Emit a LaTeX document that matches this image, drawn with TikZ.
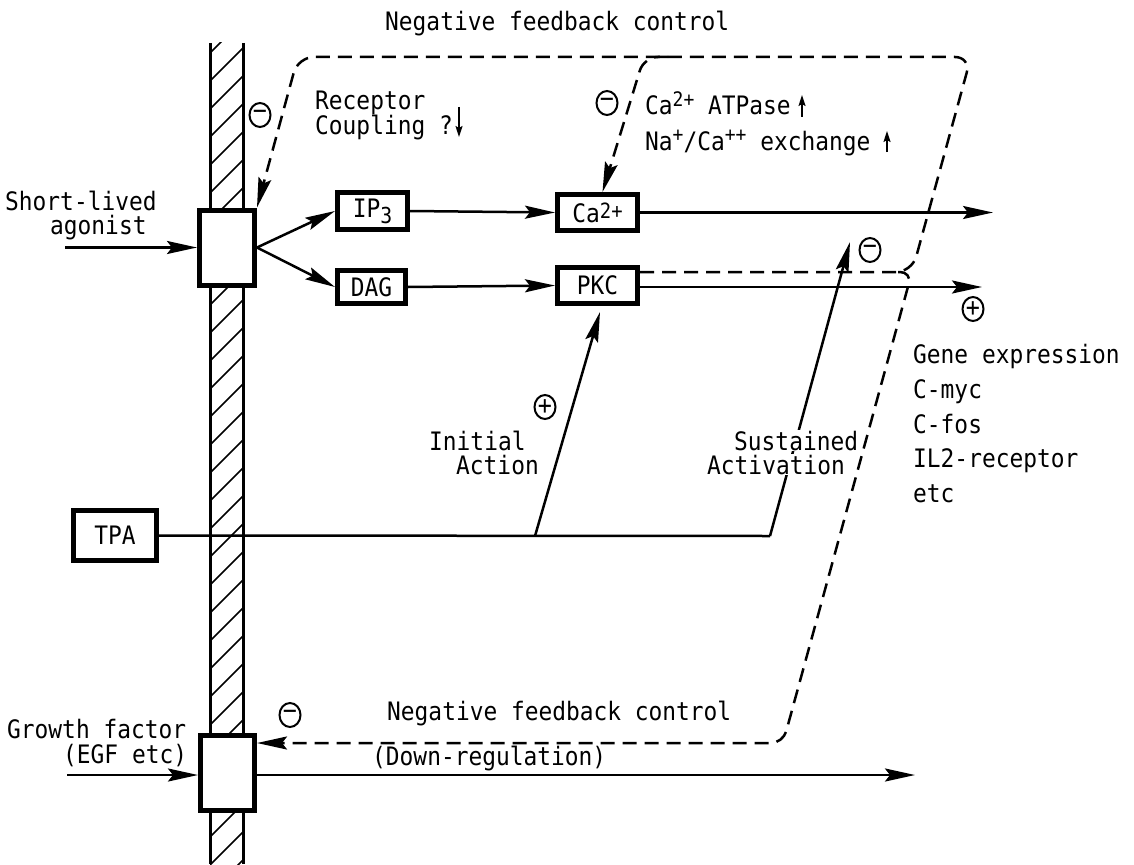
\documentclass[tikz,border=0pt]{standalone}
\usepackage{fontspec}
\newfontfamily\monofnt[FakeStretch=0.9]{DejaVu Sans Mono}
\usetikzlibrary{arrows.meta,shapes.geometric}
\newcommand{\supx}[1]{\raisebox{9pt}{\fontsize{20}{20}\selectfont #1}}
\begin{document}
\begin{tikzpicture}[x=1pt,y=-1pt,
  txt/.style={font=\monofnt\fontsize{25.4}{28}\selectfont, inner sep=0pt, anchor=base west},
  box/.style={draw, line width=5pt, fill=white, inner sep=0pt, font=\monofnt\fontsize{25.4}{28}\selectfont},
  arr/.style={line width=2.5pt, -{Stealth[length=30pt,width=13pt,inset=5pt]}},
  fb/.style={line width=2.5pt, dash pattern=on 14pt off 8pt},
  fbarr/.style={fb, -{Stealth[length=30pt,width=13pt,inset=5pt]}},
  small/.style={line width=1.6pt, -{Stealth[length=11pt,width=7pt,inset=2pt]}},
  sign/.style={ellipse, draw, line width=2pt, minimum width=21pt, minimum height=24pt, inner sep=0pt, font=\monofnt\fontsize{26}{26}\selectfont},
]
\useasboundingbox (0,0) rectangle (1134,864);
% membrane
\begin{scope}
\clip (210,43) rectangle (243,864);
\foreach \y in {20,48,...,900} \draw[line width=1.5pt] (210,\y+33) -- (243,\y);
\end{scope}
\draw[line width=3pt] (210,43) -- (210,864) (243,43) -- (243,864);

% boxes
\node[box, minimum width=55pt, minimum height=75pt] (r1) at (227,247.5) {};
\node[box, minimum width=70pt, minimum height=37pt] (ip3) at (372.5,211) {IP\raisebox{-6pt}{\fontsize{22}{22}\selectfont 3}};
\node[box, minimum width=68pt, minimum height=33pt] (dag) at (371.5,287) {DAG};
\node[box, minimum width=80pt, minimum height=36pt] (ca) at (597.5,212.5) {Ca\raisebox{4pt}{\fontsize{21}{21}\selectfont 2+}};
\node[box, minimum width=80pt, minimum height=36pt] (pkc) at (597.5,285.5) {PKC};
\node[box, minimum width=83pt, minimum height=50pt] (tpa) at (115,535.5) {TPA};
\node[box, minimum width=54pt, minimum height=75pt] (r2) at (227.5,773) {};

% small arrows
\coordinate (sa1) at (459,107); \coordinate (sa1e) at (459,137);
\draw[small] (sa1) -- (sa1e);
\coordinate (sa2) at (802,117); \coordinate (sa2e) at (802,95);
\draw[small] (sa2) -- (sa2e);
\coordinate (sa3) at (887,152); \coordinate (sa3e) at (887,131);
\draw[small] (sa3) -- (sa3e);

% solid connectors
\coordinate (in1) at (65,247.5);
\draw[arr] (in1) -- (r1.west);
\draw[arr] (r1.east) -- (ip3.west);
\draw[arr] (r1.east) -- (dag.west);
\draw[arr] (ip3.east) -- (ca.west);
\draw[arr] (dag.east) -- (pkc.west);
\coordinate (caout) at (993,212.5);
\draw[arr] (ca.east) -- (caout);
\coordinate (pkcout) at (982,287);
\draw[arr] (pkc.east |- pkcout) -- (pkcout);
\coordinate (ia) at (535,536);
\coordinate (sa) at (770,536);
\coordinate (satip) at (850,242);
\draw[line width=2.5pt] (tpa.east) -- (sa);
\draw[arr] (ia) -- ([xshift=2.5pt,yshift=-6pt]pkc.south);
\draw[arr] (sa) -- (satip);
\coordinate (in2) at (67,775);
\draw[arr] (in2) -- (r2.west |- in2);
\coordinate (out2) at (915,775);
\draw[arr] (r2.east |- out2) -- (out2);

% dashed feedback
\draw[fbarr, rounded corners=16pt] ([yshift=13.5pt]pkc.east) -- (912,272) -- (971,57) -- (298,57) -- (r1.north east);
\draw[fbarr, rounded corners=14pt] (668,57) -- (644,57) -- ([xshift=5pt]ca.north);
\draw[fbarr, rounded corners=12pt] (898,272) -- (912,272) -- (783,743) -- ([yshift=-10pt]r2.north east);

% texts
\node[txt] (t1) at (385,31) {Negative feedback control};
\node[txt] (t2) at (315,110) {Receptor};
\node[txt] (t3) at (315,134) {Coupling ?};
\node[txt] (t4) at (645,115) {Ca\supx{2+} ATPase};
\node[txt] (t5) at (645,150) {Na\supx{+}/Ca\supx{++} exchange};
\node[txt] (t6) at (5,210) {Short-lived};
\node[txt] (t7) at (50,234) {agonist};
\node[txt] (t8) at (429,450) {Initial};
\node[txt] (t9) at (456,474) {Action};
\node[txt, fill=white, inner sep=1pt] (t10) at (733,450) {Sustained};
\node[txt, fill=white, inner sep=1pt] (t11) at (706,474) {Activation};
\node[txt] (g1) at (913,363) {Gene expression};
\node[txt] (g2) at (913,398) {C-myc};
\node[txt] (g3) at (913,433) {C-fos};
\node[txt] (g4) at (913,467) {IL2-receptor};
\node[txt] (g5) at (913,502) {etc};
\node[txt] (t12) at (7,738) {Growth factor};
\node[txt] (t13) at (63,763) {(EGF etc)};
\node[txt] (t14) at (387,720) {Negative feedback control};
\node[txt] (t15) at (372,765) {(Down-regulation)};

% signs
\node[sign] (m1) at (260,115) {−};
\node[sign] (m2) at (607,103) {−};
\node[sign] (m3) at (870,250) {−};
\node[sign] (m4) at (290,715) {−};
\node[sign] (p1) at (545,407) {+};
\node[sign] (p2) at (973,309) {+};
\end{tikzpicture}
\end{document}
